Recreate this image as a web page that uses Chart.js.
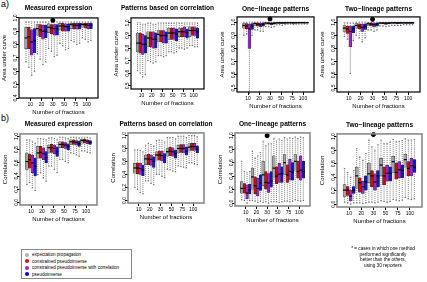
<!DOCTYPE html>
<html>
<head>
<meta charset="utf-8">
<script src="https://cdn.jsdelivr.net/npm/chart.js@4"></script>
<style>
  body { margin: 0; width: 427px; height: 282px; position: relative; background: #fff; overflow: hidden;
         font-family: "Liberation Sans", Arial, sans-serif; color: #000; }
  .panel { position: absolute; }
  .tag { position: absolute; font-size: 9px; }
  #legend { position: absolute; left: 21px; top: 249px; width: 111px; height: 30px; border: 1px solid #888;
            font-size: 4.6px; box-sizing: border-box; padding: 2px 0 0 3px; }
  #legend div { height: 6.6px; line-height: 6.6px; white-space: nowrap; }
  #legend span { display: inline-block; width: 4px; height: 4px; border-radius: 50%; margin-right: 3px; vertical-align: -0.5px; }
  #note { position: absolute; left: 333px; top: 246px; width: 100px; text-align: center; font-size: 4.7px; line-height: 5.6px; }
</style>
</head>
<body>
<div class="tag" style="left:1px;top:-1px">a)</div>
<div class="tag" style="left:1px;top:113px">b)</div>
<div class="panel" id="p_a1"><canvas id="c_a1"></canvas></div>
<div class="panel" id="p_a2"><canvas id="c_a2"></canvas></div>
<div class="panel" id="p_a3"><canvas id="c_a3"></canvas></div>
<div class="panel" id="p_a4"><canvas id="c_a4"></canvas></div>
<div class="panel" id="p_b1"><canvas id="c_b1"></canvas></div>
<div class="panel" id="p_b2"><canvas id="c_b2"></canvas></div>
<div class="panel" id="p_b3"><canvas id="c_b3"></canvas></div>
<div class="panel" id="p_b4"><canvas id="c_b4"></canvas></div>
<div id="legend"></div>
<div id="note">* = cases in which one method<br>performed significantly<br>better than the others,<br>using 30 reporters</div>
<script>
const fractions = ['10', '20', '30', '50', '75', '100'];
const methodNames = ['expectation propagation', 'constrained pseudoinverse', 'constrained pseudoinverse with correlation', 'pseudoinverse'];
const methodColors = ['#a4a4a4', '#cc0a0a', '#9626d2', '#1414c8'];
const legendColors = ['#b0b0b0', '#e00000', '#a020f0', '#0000e6'];
const starFraction = '30';

// every entry: [min, q1, median, q3, max] for 10, 20, 30, 50, 75, 100 fractions
// a) area under curve
const aucMeasuredEP   = [[0.70,0.80,0.88,0.96,1.0],[0.76,0.90,0.95,0.98,1.0],[0.80,0.92,0.96,0.985,1.0],[0.84,0.94,0.97,0.99,1.0],[0.86,0.95,0.98,0.99,1.0],[0.88,0.96,0.98,0.99,1.0]];
const aucMeasuredCPI  = [[0.66,0.80,0.89,0.96,1.0],[0.72,0.89,0.94,0.98,1.0],[0.78,0.91,0.955,0.98,1.0],[0.82,0.93,0.97,0.99,1.0],[0.85,0.95,0.975,0.99,1.0],[0.87,0.955,0.98,0.99,1.0]];
const aucMeasuredCPIC = [[0.60,0.75,0.85,0.94,1.0],[0.68,0.87,0.93,0.975,1.0],[0.74,0.90,0.95,0.98,1.0],[0.79,0.93,0.965,0.985,1.0],[0.83,0.945,0.975,0.99,1.0],[0.85,0.95,0.975,0.99,1.0]];
const aucMeasuredPI   = [[0.63,0.77,0.86,0.95,1.0],[0.70,0.88,0.93,0.975,1.0],[0.75,0.90,0.95,0.98,1.0],[0.80,0.93,0.965,0.985,1.0],[0.84,0.945,0.975,0.99,1.0],[0.86,0.95,0.975,0.99,1.0]];

const aucCorrEP   = [[0.62,0.77,0.84,0.92,1.0],[0.70,0.81,0.88,0.93,1.0],[0.74,0.85,0.91,0.94,1.0],[0.77,0.87,0.92,0.96,1.0],[0.80,0.89,0.93,0.96,1.0],[0.82,0.89,0.94,0.97,1.0]];
const aucCorrCPI  = [[0.60,0.76,0.84,0.92,1.0],[0.69,0.81,0.88,0.93,1.0],[0.74,0.85,0.90,0.94,1.0],[0.77,0.87,0.92,0.96,1.0],[0.80,0.89,0.93,0.96,1.0],[0.82,0.90,0.94,0.97,1.0]];
const aucCorrCPIC = [[0.57,0.75,0.83,0.91,0.99],[0.68,0.80,0.87,0.93,0.99],[0.73,0.84,0.90,0.94,1.0],[0.76,0.87,0.92,0.96,1.0],[0.79,0.89,0.93,0.97,1.0],[0.81,0.90,0.94,0.97,1.0]];
const aucCorrPI   = [[0.59,0.76,0.83,0.90,0.99],[0.69,0.80,0.87,0.92,0.99],[0.74,0.84,0.90,0.93,1.0],[0.77,0.86,0.91,0.95,1.0],[0.80,0.88,0.92,0.95,1.0],[0.81,0.88,0.93,0.96,1.0]];

const aucOneEP   = [[0.90,0.955,0.975,0.99,1.0],[0.94,0.975,0.99,0.995,1.0],[0.965,0.985,0.993,0.997,1.0],[0.98,0.99,0.995,0.998,1.0],[0.985,0.992,0.996,0.999,1.0],[0.985,0.993,0.997,0.999,1.0]];
const aucOneCPI  = [[0.91,0.95,0.97,0.99,1.0],[0.94,0.97,0.985,0.995,1.0],[0.965,0.985,0.992,0.997,1.0],[0.98,0.99,0.995,0.998,1.0],[0.985,0.992,0.996,0.999,1.0],[0.985,0.993,0.997,0.999,1.0]];
const aucOneCPIC = [[0.46,0.80,0.95,0.985,1.0],[0.93,0.965,0.98,0.993,1.0],[0.96,0.982,0.99,0.996,1.0],[0.975,0.99,0.994,0.998,1.0],[0.98,0.99,0.995,0.998,1.0],[0.985,0.992,0.996,0.999,1.0]];
const aucOnePI   = [[0.90,0.945,0.97,0.99,1.0],[0.93,0.97,0.985,0.995,1.0],[0.965,0.985,0.992,0.997,1.0],[0.98,0.99,0.995,0.998,1.0],[0.985,0.992,0.996,0.999,1.0],[0.985,0.993,0.997,0.999,1.0]];

const aucTwoEP   = [[0.89,0.93,0.955,0.975,0.995],[0.90,0.955,0.975,0.99,1.0],[0.94,0.975,0.988,0.995,1.0],[0.97,0.987,0.993,0.997,1.0],[0.975,0.99,0.995,0.998,1.0],[0.98,0.99,0.995,0.998,1.0]];
const aucTwoCPI  = [[0.87,0.915,0.95,0.97,0.995],[0.88,0.95,0.97,0.988,1.0],[0.94,0.972,0.986,0.995,1.0],[0.97,0.986,0.993,0.997,1.0],[0.975,0.99,0.995,0.998,1.0],[0.98,0.99,0.995,0.998,1.0]];
const aucTwoCPIC = [[0.61,0.815,0.93,0.97,0.995],[0.85,0.93,0.96,0.985,1.0],[0.93,0.965,0.982,0.993,1.0],[0.965,0.984,0.992,0.997,1.0],[0.975,0.988,0.994,0.998,1.0],[0.98,0.99,0.995,0.998,1.0]];
const aucTwoPI   = [[0.86,0.92,0.95,0.97,0.995],[0.88,0.945,0.968,0.987,1.0],[0.94,0.97,0.985,0.995,1.0],[0.97,0.986,0.993,0.997,1.0],[0.975,0.99,0.995,0.998,1.0],[0.98,0.99,0.995,0.998,1.0]];

// b) correlation
const corMeasuredEP   = [[0.27,0.50,0.62,0.75,0.95],[0.42,0.67,0.75,0.85,0.97],[0.55,0.75,0.83,0.87,0.98],[0.65,0.83,0.88,0.92,0.99],[0.75,0.88,0.92,0.95,0.99],[0.78,0.90,0.94,0.96,0.99]];
const corMeasuredCPI  = [[0.30,0.52,0.65,0.73,0.95],[0.45,0.67,0.76,0.85,0.97],[0.55,0.76,0.83,0.88,0.98],[0.65,0.83,0.88,0.92,0.99],[0.74,0.88,0.92,0.95,0.99],[0.78,0.90,0.94,0.96,0.99]];
const corMeasuredCPIC = [[0.22,0.45,0.60,0.72,0.93],[0.37,0.65,0.74,0.83,0.96],[0.50,0.74,0.82,0.87,0.97],[0.62,0.82,0.87,0.91,0.98],[0.72,0.87,0.91,0.94,0.99],[0.76,0.89,0.93,0.95,0.99]];
const corMeasuredPI   = [[0.18,0.40,0.55,0.67,0.90],[0.32,0.60,0.68,0.77,0.95],[0.45,0.70,0.77,0.84,0.96],[0.60,0.80,0.85,0.89,0.97],[0.70,0.85,0.89,0.93,0.98],[0.75,0.88,0.91,0.94,0.98]];

const corCorrEP   = [[0.20,0.42,0.50,0.57,0.78],[0.30,0.55,0.64,0.70,0.85],[0.40,0.62,0.70,0.75,0.92],[0.48,0.68,0.75,0.80,0.97],[0.53,0.73,0.80,0.85,0.99],[0.58,0.76,0.82,0.87,1.0]];
const corCorrCPI  = [[0.17,0.41,0.50,0.58,0.78],[0.30,0.55,0.64,0.71,0.88],[0.40,0.62,0.70,0.76,0.93],[0.47,0.69,0.76,0.82,0.97],[0.52,0.74,0.80,0.86,0.99],[0.58,0.77,0.83,0.88,1.0]];
const corCorrCPIC = [[0.12,0.40,0.49,0.57,0.77],[0.26,0.54,0.63,0.70,0.86],[0.37,0.61,0.69,0.76,0.92],[0.45,0.68,0.75,0.81,0.97],[0.51,0.73,0.80,0.86,0.99],[0.56,0.77,0.83,0.88,1.0]];
const corCorrPI   = [[0.10,0.38,0.47,0.54,0.75],[0.24,0.51,0.60,0.67,0.84],[0.35,0.58,0.66,0.72,0.90],[0.44,0.65,0.72,0.77,0.95],[0.50,0.70,0.76,0.82,0.97],[0.55,0.73,0.79,0.84,0.98]];

const corOneEP   = [[0.05,0.15,0.22,0.32,0.62],[0.04,0.21,0.39,0.52,0.77],[0.01,0.26,0.42,0.62,0.92],[0.02,0.37,0.52,0.70,0.96],[0.03,0.42,0.60,0.72,0.97],[0.05,0.49,0.62,0.72,0.98]];
const corOneCPI  = [[0.04,0.15,0.22,0.29,0.47],[0.03,0.14,0.26,0.39,0.67],[0.02,0.21,0.31,0.47,0.85],[0.02,0.29,0.40,0.54,0.92],[0.03,0.31,0.42,0.57,0.95],[0.04,0.37,0.47,0.62,0.96]];
const corOneCPIC = [[0.00,0.07,0.15,0.27,0.45],[0.01,0.11,0.22,0.37,0.70],[0.00,0.16,0.30,0.44,0.88],[0.01,0.31,0.43,0.59,0.95],[0.02,0.34,0.47,0.65,0.97],[0.03,0.34,0.49,0.70,0.98]];
const corOnePI   = [[0.04,0.14,0.20,0.28,0.47],[0.03,0.19,0.30,0.42,0.75],[0.02,0.24,0.33,0.47,0.88],[0.02,0.31,0.44,0.54,0.93],[0.03,0.34,0.46,0.60,0.96],[0.04,0.37,0.47,0.62,0.97]];

const corTwoEP   = [[0.03,0.11,0.21,0.29,0.53],[0.02,0.24,0.42,0.55,0.82],[0.03,0.32,0.45,0.61,0.95],[0.05,0.42,0.58,0.68,0.95],[0.07,0.47,0.63,0.71,0.96],[0.10,0.55,0.66,0.74,0.97]];
const corTwoCPI  = [[0.02,0.13,0.21,0.26,0.47],[0.02,0.18,0.32,0.39,0.70],[0.03,0.26,0.42,0.50,0.85],[0.04,0.29,0.42,0.55,0.90],[0.06,0.37,0.47,0.61,0.93],[0.08,0.42,0.53,0.63,0.95]];
const corTwoCPIC = [[0.00,0.05,0.12,0.21,0.40],[0.01,0.16,0.26,0.34,0.65],[0.02,0.21,0.33,0.45,0.80],[0.03,0.34,0.46,0.58,0.90],[0.05,0.39,0.51,0.63,0.93],[0.07,0.42,0.57,0.68,0.95]];
const corTwoPI   = [[0.02,0.16,0.21,0.26,0.50],[0.02,0.21,0.33,0.42,0.75],[0.03,0.26,0.42,0.50,0.88],[0.04,0.34,0.46,0.55,0.92],[0.06,0.39,0.50,0.58,0.94],[0.08,0.47,0.55,0.66,0.96]];

// star height (value) where one method was significantly better, null = none
const starLevels = { a1: 1.012, a2: null, a3: 1.025, a4: 1.022, b1: null, b2: null, b3: 1.0, b4: 1.03 };

const FONT = '"Liberation Sans", Arial, sans-serif';

// frame: [left, top, right, bottom] of the plot box in page pixels
const panels = [
  { id: 'a1', title: 'Measured expression', yTitle: 'Area under curve', series: [aucMeasuredEP, aucMeasuredCPI, aucMeasuredCPIC, aucMeasuredPI], ymin: 0.43, ymax: 1.03, step: 0.1, frame: [19, 18, 98, 98], titleY: 8, frameColor: '#000', frameW: 1.2 },
  { id: 'a2', title: 'Patterns based on correlation', yTitle: 'Area under curve', series: [aucCorrEP, aucCorrCPI, aucCorrCPIC, aucCorrPI], ymin: 0.475, ymax: 1.04, step: 0.1, frame: [131, 18, 204, 89], titleY: 8, frameColor: '#000', frameW: 1.2 },
  { id: 'a3', title: 'One\u2212lineage patterns', yTitle: 'Area under curve', series: [aucOneEP, aucOneCPI, aucOneCPIC, aucOnePI], ymin: 0.47, ymax: 1.04, step: 0.1, frame: [237, 17, 314, 92], titleY: 9, frameColor: '#000', frameW: 1.2 },
  { id: 'a4', title: 'Two\u2212lineage patterns', yTitle: 'Area under curve', series: [aucTwoEP, aucTwoCPI, aucTwoCPIC, aucTwoPI], ymin: 0.47, ymax: 1.04, step: 0.1, frame: [337, 17, 420, 92], titleY: 9, frameColor: '#000', frameW: 1.2 },
  { id: 'b1', title: 'Measured expression', yTitle: 'Correlation', series: [corMeasuredEP, corMeasuredCPI, corMeasuredCPIC, corMeasuredPI], ymin: -0.04, ymax: 1.04, step: 0.2, frame: [20, 134, 97, 205], titleY: 124, frameColor: '#8a8a8a', frameW: 1.6 },
  { id: 'b2', title: 'Patterns based on correlation', yTitle: 'Correlation', series: [corCorrEP, corCorrCPI, corCorrCPIC, corCorrPI], ymin: -0.04, ymax: 1.04, step: 0.2, frame: [128, 133, 204, 203], titleY: 124, frameColor: '#8a8a8a', frameW: 1.6 },
  { id: 'b3', title: 'One\u2212lineage patterns', yTitle: 'Correlation', series: [corOneEP, corOneCPI, corOneCPIC, corOnePI], ymin: -0.04, ymax: 1.04, step: 0.2, frame: [235, 133, 310, 206], titleY: 124, frameColor: '#8a8a8a', frameW: 1.6 },
  { id: 'b4', title: 'Two\u2212lineage patterns', yTitle: 'Correlation', series: [corTwoEP, corTwoCPI, corTwoCPIC, corTwoPI], ymin: -0.04, ymax: 1.04, step: 0.2, frame: [337, 134, 422, 207], titleY: 125, frameColor: '#8a8a8a', frameW: 1.6 },
];

// frame around the plot region (R's box())
const framePlugin = {
  id: 'frame',
  afterDraw(chart, args, opts) {
    const { ctx, chartArea: a } = chart;
    ctx.save();
    ctx.strokeStyle = opts.color;
    ctx.lineWidth = opts.width;
    ctx.strokeRect(a.left, a.top, a.right - a.left, a.bottom - a.top);
    ctx.restore();
  }
};

// dotted whiskers behind the boxes, black medians on top
const boxPlugin = {
  id: 'boxStats',
  beforeDatasetsDraw(chart) {
    const { ctx } = chart;
    const y = chart.scales.y;
    ctx.save();
    chart.data.datasets.forEach((ds, i) => {
      if (!ds.stats) return;
      chart.getDatasetMeta(i).data.forEach((el, j) => {
        const s = ds.stats[j];
        if (!s) return;
        const x = el.x, half = el.width / 4;
        ctx.strokeStyle = '#444';
        ctx.lineWidth = 0.7;
        ctx.setLineDash([1, 1]);
        ctx.beginPath();
        ctx.moveTo(x, y.getPixelForValue(s[0]));
        ctx.lineTo(x, y.getPixelForValue(s[1]));
        ctx.moveTo(x, y.getPixelForValue(s[3]));
        ctx.lineTo(x, y.getPixelForValue(s[4]));
        ctx.stroke();
        ctx.setLineDash([]);
        ctx.beginPath();
        ctx.moveTo(x - half, y.getPixelForValue(s[0]));
        ctx.lineTo(x + half, y.getPixelForValue(s[0]));
        ctx.moveTo(x - half, y.getPixelForValue(s[4]));
        ctx.lineTo(x + half, y.getPixelForValue(s[4]));
        ctx.stroke();
      });
    });
    ctx.restore();
  },
  afterDatasetsDraw(chart) {
    const { ctx } = chart;
    const y = chart.scales.y;
    ctx.save();
    ctx.strokeStyle = '#000';
    ctx.lineWidth = 1.2;
    chart.data.datasets.forEach((ds, i) => {
      if (!ds.stats) return;
      chart.getDatasetMeta(i).data.forEach((el, j) => {
        const s = ds.stats[j];
        if (!s) return;
        const py = y.getPixelForValue(s[2]);
        ctx.beginPath();
        ctx.moveTo(el.x - el.width / 2, py);
        ctx.lineTo(el.x + el.width / 2, py);
        ctx.stroke();
      });
    });
    ctx.restore();
  }
};

const makePanel = (p) => {
  const [L, T, R, B] = p.frame;
  const sideW = 19, xAxisH = 19;
  const titleTop = p.titleY - 5;
  const div = document.getElementById('p_' + p.id);
  div.style.left = (L - sideW) + 'px';
  div.style.top = titleTop + 'px';
  div.style.width = (R - L + 2 * sideW) + 'px';
  div.style.height = (B - titleTop + xAxisH) + 'px';

  // blank categories at both ends give R's wider x range
  const labels = [''].concat(fractions, ['']);
  const last = labels.length - 1;
  const datasets = p.series.map((s, i) => ({
    type: 'bar',
    label: methodNames[i],
    data: [null].concat(s.map(v => [v[1], v[3]]), [null]),
    stats: [null].concat(s, [null]),
    backgroundColor: methodColors[i],
    borderColor: '#2a2a2a',
    borderWidth: 0.5,
    borderSkipped: false,
    barPercentage: 1.0,
    categoryPercentage: 1.0,
  }));
  const star = starLevels[p.id];
  if (star !== null) {
    datasets.push({
      type: 'line',
      label: 'significant',
      data: labels.map(l => (l === starFraction ? star : null)),
      showLine: false,
      pointStyle: 'star',
      pointRadius: 2.4,
      pointBorderWidth: 1.6,
      borderColor: '#000',
      backgroundColor: '#000',
      clip: false,
    });
  }

  return new Chart(document.getElementById('c_' + p.id), {
    data: { labels, datasets },
    options: {
      responsive: true,
      maintainAspectRatio: false,
      animation: false,
      events: [],
      layout: { padding: 0 },
      plugins: {
        legend: { display: false },
        tooltip: { enabled: false },
        title: {
          display: true,
          text: p.title,
          color: '#000',
          font: { family: FONT, size: 6.6, weight: 'bold' },
          padding: { top: 1, bottom: T - p.titleY - 4 },
        },
        frame: { color: p.frameColor, width: p.frameW },
      },
      scales: {
        x: {
          offset: false,
          border: { display: false },
          grid: {
            drawOnChartArea: false, offset: false, tickLength: 3,
            color: '#000',
            tickColor: (c) => (c.index === 0 || c.index === last ? 'rgba(0,0,0,0)' : '#000'),
          },
          ticks: { autoSkip: false, maxRotation: 0, padding: 1, color: '#000', font: { family: FONT, size: 5 } },
          title: { display: true, text: 'Number of fractions', color: '#000', font: { family: FONT, size: 6 }, padding: { top: 0, bottom: 1 } },
          afterFit: (s) => { s.height = xAxisH; },
        },
        y: {
          min: p.ymin,
          max: p.ymax,
          border: { display: false },
          grid: { drawOnChartArea: false, tickLength: 3, color: '#000' },
          ticks: {
            stepSize: p.step, includeBounds: false, autoSkip: false,
            minRotation: 90, maxRotation: 90, crossAlign: 'center', padding: -3,
            color: '#000', font: { family: FONT, size: 5 },
            callback: (v) => v.toFixed(1),
          },
          title: { display: true, text: p.yTitle, color: '#000', font: { family: FONT, size: 6 }, padding: { top: 1, bottom: 0 } },
          afterFit: (s) => { s.width = sideW; },
        },
        // empty right margin so the panel title is centred over the plot box
        side: {
          type: 'linear', position: 'right', display: true,
          grid: { display: false }, border: { display: false }, ticks: { display: false },
          afterFit: (s) => { s.width = sideW; },
        },
      },
    },
    plugins: [framePlugin, boxPlugin],
  });
};

panels.forEach(makePanel);

// legend box
const legend = document.getElementById('legend');
methodNames.forEach((name, i) => {
  const row = document.createElement('div');
  row.innerHTML = '<span style="background:' + legendColors[i] + '"></span>' + name;
  legend.appendChild(row);
});
</script>
</body>
</html>
